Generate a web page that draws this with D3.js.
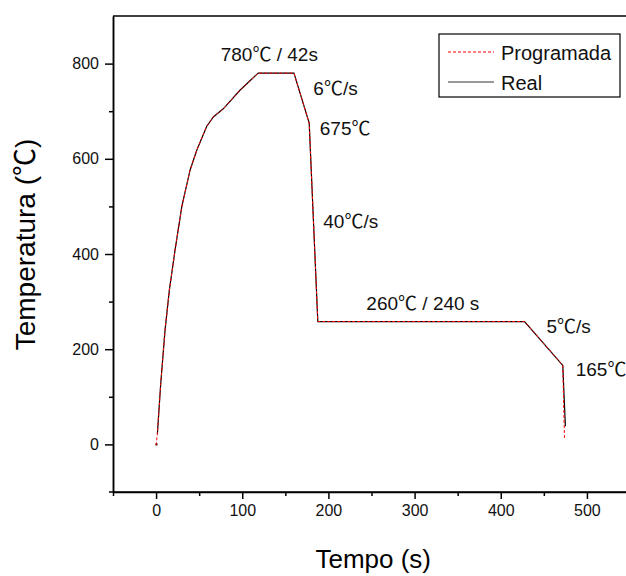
<!DOCTYPE html>
<html>
<head>
<meta charset="utf-8">
<script src="https://cdnjs.cloudflare.com/ajax/libs/d3/7.8.5/d3.min.js"></script>
<style>
	body { margin: 0; background: #fff; }
	svg { display: block; font-family: 'Liberation Sans', Arial, sans-serif; }
</style>
</head>
<body>
<div id="chart"></div>
<script>
// tempo (s) / temperatura (C)
var prog_time = [0, 1.5, 5.4, 10.4, 15.4, 22, 29.8, 39.4, 47.2, 58.7, 66.4, 78, 97.3, 118.5, 160, 177.7, 187.7, 427.6, 472, 474]
var prog_temp = [-2, 22, 128, 240, 324, 408, 499, 576, 618, 668, 688, 705, 744, 780, 780, 675, 258, 258, 166, 10]

var real_time = [1.5, 5.4, 10.4, 15.4, 22, 29.8, 39.4, 47.2, 58.7, 66.4, 78, 97.3, 118.5, 160, 177.7, 187.7, 427.6, 472, 475]
var real_temp = [22, 128, 240, 324, 408, 499, 576, 618, 668, 688, 705, 744, 780, 780, 675, 258, 258, 166, 38]

var x_major = [0, 100, 200, 300, 400, 500]
var x_minor = [-50, 50, 150, 250, 350, 450, 550]
var y_major = [0, 200, 400, 600, 800]
var y_minor = [100, 300, 500, 700]

var notes = ['780\u2103 / 42s', '6\u2103/s', '675\u2103', '40\u2103/s', '260\u2103 / 240 s', '5\u2103/s', '165\u2103']
var note_x = [75, 182.5, 190, 194, 244, 453, 487]
var note_y = [805, 734, 650, 454, 282, 233, 144]

var legend_names = ['Programada', 'Real']

var width = 626, height = 576,
	margins = {top: 16, right: -4, bottom: 84, left: 113}

var svg = d3.select('#chart').append('svg')
	.attr('width', width)
	.attr('height', height)

var x = d3.scaleLinear().domain([-50, 550]).range([margins.left, width - margins.right])
var y = d3.scaleLinear().domain([-100, 900]).range([height - margins.bottom, margins.top])

// the degree-celsius sign is drawn from a CJK font, like the original
function addText(sel, str) {
	str.split(/(\u2103)/).forEach(function(part) {
		if (!part) return
		var t = sel.append('tspan').text(part)
		if (part == '\u2103') t.attr('font-family', "'Noto Sans CJK SC', sans-serif")
	})
}

// frame top
svg.append('line')
	.attr('x1', x(-50)).attr('x2', x(550))
	.attr('y1', y(900)).attr('y2', y(900))
	.attr('stroke', 'black').attr('stroke-width', 1.5)

svg.append('g')
	.attr('transform', 'translate(0,' + y(-100) + ')')
	.call(d3.axisBottom(x).tickValues(x_major).tickSize(7).tickSizeOuter(0).tickPadding(6).tickFormat(d3.format('d')))
svg.append('g')
	.attr('transform', 'translate(0,' + y(-100) + ')')
	.call(d3.axisBottom(x).tickValues(x_minor).tickSize(4).tickSizeOuter(0).tickFormat(''))

svg.append('g')
	.attr('transform', 'translate(' + x(-50) + ',0)')
	.call(d3.axisLeft(y).tickValues(y_major).tickSize(8).tickSizeOuter(0).tickPadding(6).tickFormat(d3.format('d')))
svg.append('g')
	.attr('transform', 'translate(' + x(-50) + ',0)')
	.call(d3.axisLeft(y).tickValues(y_minor).tickSize(4).tickSizeOuter(0).tickFormat(''))

svg.selectAll('.domain').attr('stroke-width', 1.5)
svg.selectAll('.tick line').attr('stroke-width', 1.5)
svg.selectAll('.tick text').attr('font-size', 16).attr('fill', '#111')
svg.select('.domain').attr('d', 'M' + (x(-50) - 4) + ',0H' + x(550))

svg.append('text')
	.attr('x', x(252))
	.attr('y', 568)
	.attr('text-anchor', 'middle')
	.attr('font-size', 26)
	.text('Tempo (s)')

var ytitle = svg.append('text')
	.attr('transform', 'translate(35,' + y(420) + ') rotate(-90)')
	.attr('text-anchor', 'middle')
	.attr('font-size', 28)
addText(ytitle, 'Temperatura (\u2103)')

var line = d3.line()
	.x(function(d) { return x(d[0]) })
	.y(function(d) { return y(d[1]) })

svg.append('path')
	.datum(d3.zip(real_time, real_temp))
	.attr('d', line)
	.attr('fill', 'none')
	.attr('stroke', 'black')
	.attr('stroke-width', 1.2)

svg.append('rect')
	.attr('x', x(0.5) - 1).attr('y', y(0) - 1)
	.attr('width', 2).attr('height', 2)
	.attr('fill', 'black')

svg.append('path')
	.datum(d3.zip(prog_time, prog_temp))
	.attr('d', line)
	.attr('fill', 'none')
	.attr('stroke', 'red')
	.attr('stroke-width', 1)
	.attr('stroke-dasharray', '3,2')

svg.selectAll('.note')
	.data(notes)
	.enter().append('text')
	.attr('class', 'note')
	.attr('x', function(d, i) { return x(note_x[i]) })
	.attr('y', function(d, i) { return y(note_y[i]) })
	.attr('font-size', 19)
	.attr('fill', '#111')
	.each(function(d) { addText(d3.select(this), d) })

// legend
var legend = svg.append('g').attr('transform', 'translate(439,34)')
legend.append('rect')
	.attr('width', 181).attr('height', 63)
	.attr('fill', 'white').attr('stroke', 'black').attr('stroke-width', 1.2)

legend.selectAll('.item')
	.data(legend_names)
	.enter().append('line')
	.attr('x1', 9).attr('x2', 55)
	.attr('y1', function(d, i) { return 18 + i * 30 })
	.attr('y2', function(d, i) { return 18 + i * 30 })
	.attr('stroke', function(d, i) { return i ? '#333' : 'red' })
	.attr('stroke-width', 1)
	.attr('stroke-dasharray', function(d, i) { return i ? null : '3,2' })

legend.selectAll('.label')
	.data(legend_names)
	.enter().append('text')
	.attr('x', 62)
	.attr('y', function(d, i) { return 26 + i * 30 })
	.attr('font-size', 20)
	.attr('fill', '#111')
	.text(function(d) { return d })
</script>
</body>
</html>
